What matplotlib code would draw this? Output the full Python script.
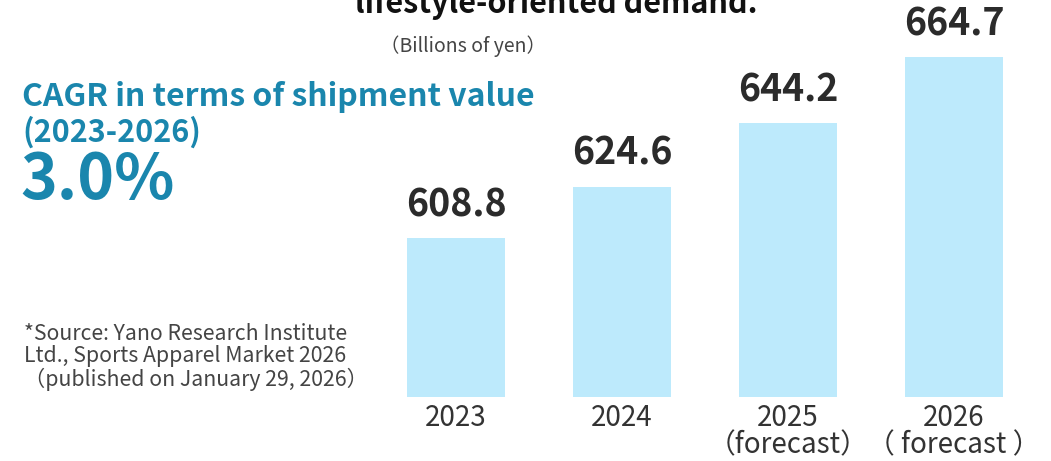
import matplotlib.pyplot as plt
import numpy as np

plt.rcParams['font.family'] = ['Noto Sans CJK JP', 'DejaVu Sans']

# data
years = ['2023', '2024', '2025\n（forecast）', '2026\n（ forecast ）']
values = [608.8, 624.6, 644.2, 664.7]
value_labels = ['608.8', '624.6', '644.2', '664.7']

bar_color = '#bdeafc'
cagr_color = '#1a86ad'

fig = plt.figure(figsize=(10.51, 4.61), dpi=100)
ax = fig.add_axes([373 / 1051, 64 / 461, 664 / 1051, 397 / 461])

x = np.arange(len(values))
ax.bar(x, values, width=0.585, color=bar_color)
ax.set_xlim(-0.5, 3.5)
ax.set_ylim(559.7, 682.3)

for xi, v, lab in zip(x, values, value_labels):
    ax.annotate(lab, (xi, v), xytext=(0, 10), textcoords='offset points',
                ha='center', va='bottom', fontsize=27, fontweight='bold',
                color='#2b2b2b')

ax.set_xticks(x)
ax.set_xticklabels(years, fontsize=20, color='#333333', linespacing=0.92,
                   va='top')
ax.tick_params(axis='x', length=0, pad=4)
ax.set_yticks([])
for s in ax.spines.values():
    s.set_visible(False)

# title (cut off at the top in the original)
fig.text(556 / 1051, 1 - 13 / 461, 'lifestyle-oriented demand.',
         ha='center', va='baseline', fontsize=22, fontweight='bold',
         color='#111111')
fig.text(380 / 1051, 1 - 46 / 461, '（Billions of yen）', ha='left',
         va='center', fontsize=14, color='#444444')

# CAGR block
fig.text(22 / 1051, 1 - 97 / 461, 'CAGR in terms of shipment value',
         ha='left', va='center', fontsize=23, fontweight='bold',
         color=cagr_color)
fig.text(22 / 1051, 1 - 132 / 461, '(2023-2026)', ha='left', va='center',
         fontsize=22, fontweight='bold', color=cagr_color)
fig.text(20 / 1051, 1 - 180 / 461, '3.0%', ha='left', va='center',
         fontsize=45, fontweight='bold', color=cagr_color)

# source note
fig.text(24 / 1051, 1 - 357 / 461,
         '*Source: Yano Research Institute\nLtd., Sports Apparel Market 2026\n（published on January 29, 2026）',
         ha='left', va='center', fontsize=15.3, color='#444444',
         linespacing=1.05)

fig.savefig('out.png', dpi=100)
